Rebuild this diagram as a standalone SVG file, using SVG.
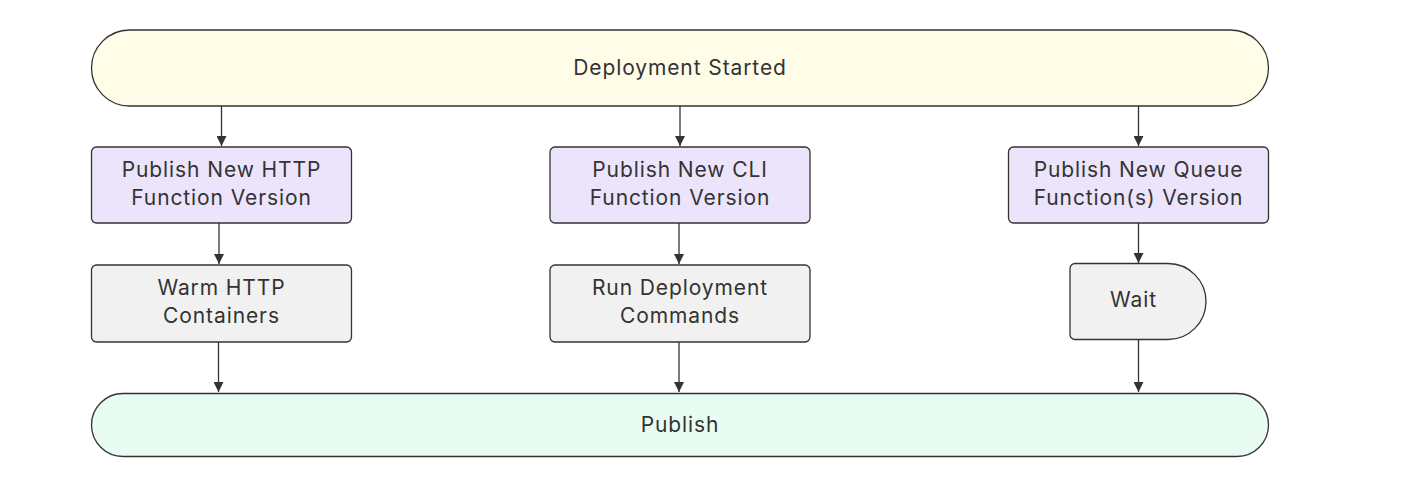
<svg xmlns="http://www.w3.org/2000/svg" width="1420" height="488" viewBox="0 0 1420 488">
<defs>
<marker id="arr" viewBox="0 0 10 10" refX="10" refY="5" markerWidth="10" markerHeight="10" markerUnits="userSpaceOnUse" orient="auto">
<path d="M0,0 L10,5 L0,10 z" fill="#333"/>
</marker>
<style>
.n{stroke:#333;stroke-width:1.3}
.start{fill:#fffde8}
.pub{fill:#ece4fb}
.op{fill:#f1f1f1}
.end{fill:#e8fcf1}
.t{font-family:Inter,"Liberation Sans",sans-serif;font-size:21px;letter-spacing:0.9px;fill:#333;text-anchor:middle}
.c{stroke:#333;stroke-width:1.3;fill:none;marker-end:url(#arr)}
</style>
</defs>
<rect width="1420" height="488" fill="#fff"/>
<g id="connectors">
<line class="c" x1="221.5" y1="106" x2="221.5" y2="146"/>
<line class="c" x1="680" y1="106" x2="680" y2="146"/>
<line class="c" x1="1138.5" y1="106" x2="1138.5" y2="146"/>
<line class="c" x1="219" y1="223" x2="219" y2="264"/>
<line class="c" x1="679" y1="223" x2="679" y2="264"/>
<line class="c" x1="1138.5" y1="223" x2="1138.5" y2="263"/>
<line class="c" x1="218.5" y1="342" x2="218.5" y2="392"/>
<line class="c" x1="679" y1="342" x2="679" y2="392"/>
<line class="c" x1="1138.5" y1="339" x2="1138.5" y2="392"/>
</g>
<g id="start">
<rect class="n start" x="91.5" y="30" width="1177" height="76" rx="38"/>
<text class="t" x="680" y="75">Deployment Started</text>
</g>
<g id="http">
<rect class="n pub" x="91.5" y="147" width="260" height="76" rx="5"/>
<text class="t" x="221.5" y="177">Publish New HTTP</text>
<text class="t" x="221.5" y="205">Function Version</text>
</g>
<g id="cli">
<rect class="n pub" x="550" y="147" width="260" height="76" rx="5"/>
<text class="t" x="680" y="177">Publish New CLI</text>
<text class="t" x="680" y="205">Function Version</text>
</g>
<g id="queue">
<rect class="n pub" x="1008.5" y="147" width="260" height="76" rx="5"/>
<text class="t" x="1138.5" y="177">Publish New Queue</text>
<text class="t" x="1138.5" y="205">Function(s) Version</text>
</g>
<g id="warm">
<rect class="n op" x="91.5" y="265" width="260" height="77" rx="5"/>
<text class="t" x="221.5" y="295">Warm HTTP</text>
<text class="t" x="221.5" y="323">Containers</text>
</g>
<g id="run">
<rect class="n op" x="550" y="265" width="260" height="77" rx="5"/>
<text class="t" x="680" y="295">Run Deployment</text>
<text class="t" x="680" y="323">Commands</text>
</g>
<g id="wait">
<path class="n op" d="M1075,263.5 H1168 A38,38 0 0 1 1168,339.5 H1075 A5,5 0 0 1 1070,334.5 V268.5 A5,5 0 0 1 1075,263.5 Z"/>
<text class="t" x="1133.5" y="307">Wait</text>
</g>
<g id="publish">
<rect class="n end" x="91.5" y="393.5" width="1177" height="63" rx="31.5"/>
<text class="t" x="680" y="432">Publish</text>
</g>
</svg>
